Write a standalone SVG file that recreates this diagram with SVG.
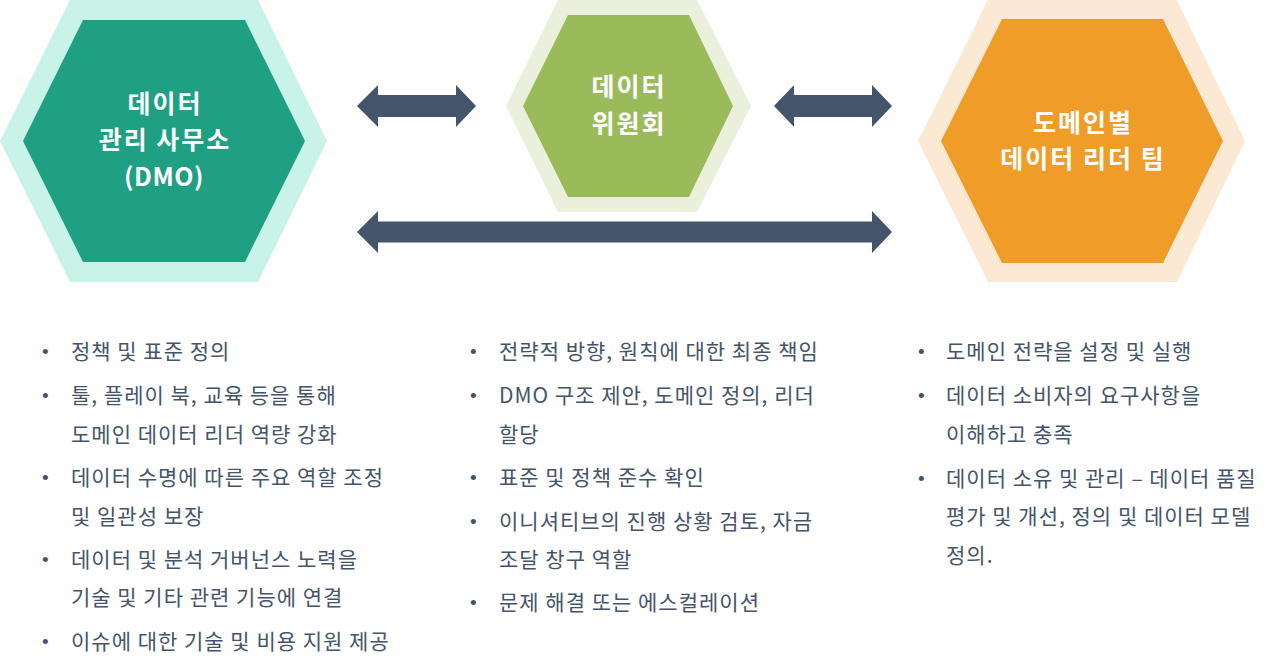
<svg xmlns="http://www.w3.org/2000/svg" width="1280" height="671" viewBox="0 0 1280 671">
<defs>
<style>
.title{font-family:"Noto Sans CJK KR","Noto Sans",sans-serif;font-size:25px;font-weight:700;letter-spacing:2px;fill:#ffffff;text-anchor:middle}
.latin{letter-spacing:0.5px}
.item{font-family:"Noto Sans CJK KR","Noto Sans",sans-serif;font-size:21px;font-weight:400;letter-spacing:1px;fill:#44546a}
.dot{font-family:"Liberation Sans",sans-serif;font-size:19px;fill:#44546a}
.arrow{fill:#44546a}
</style>
</defs>
<rect width="1280" height="671" fill="#ffffff"/>
<g id="connectors">
<polygon class="arrow" points="357,106 378,85 378,95 456,95 456,85 476,106 456,127 456,117 378,117 378,127"/>
<polygon class="arrow" points="774,106 794,85 794,95 872,95 872,85 892,106 872,127 872,117 794,117 794,127"/>
<polygon class="arrow" points="357,232 378,211 378,221.5 872,221.5 872,211 892,232 872,253 872,242.5 378,242.5 378,253"/>
</g>
<g id="node-dmo">
<polygon points="70,0 258,0 327,141 258,282 70,282 0,141" fill="#c9f2e8"/>
<polygon points="83,20 245,20 305,141 245,262 83,262 23,141" fill="#1fa083"/>
<text class="title" x="165" y="112.5">데이터</text>
<text class="title" x="165" y="149">관리 사무소</text>
<text class="title latin" x="164" y="185.5" font-size="26">(DMO)</text>
</g>
<g id="node-committee">
<polygon points="558,0 697,0 751,106 697,212 558,212 506,106" fill="#ebf0dc"/>
<polygon points="568,15 689,15 733,106 689,197 568,197 523,106" fill="#9bbb5a"/>
<text class="title" x="629" y="96">데이터</text>
<text class="title" x="629" y="132.5">위원회</text>
</g>
<g id="node-domain">
<polygon points="988,0 1177,0 1245,141 1177,282 988,282 918,141" fill="#fbe9d3"/>
<polygon points="1002,19 1163,19 1223,141 1163,263 1002,263 941,141" fill="#f09c28"/>
<text class="title" x="1083" y="131.5">도메인별</text>
<text class="title" x="1083" y="168">데이터 리더 팀</text>
</g>
<g id="list-dmo">
<text class="dot" x="42" y="358">•</text>
<text class="item" x="71" y="359">정책 및 표준 정의</text>
<text class="dot" x="42" y="402">•</text>
<text class="item" x="71" y="403">툴, 플레이 북, 교육 등을 통해</text>
<text class="item" x="71" y="442">도메인 데이터 리더 역량 강화</text>
<text class="dot" x="42" y="484">•</text>
<text class="item" x="71" y="485">데이터 수명에 따른 주요 역할 조정</text>
<text class="item" x="71" y="524">및 일관성 보장</text>
<text class="dot" x="42" y="566">•</text>
<text class="item" x="71" y="567">데이터 및 분석 거버넌스 노력을</text>
<text class="item" x="71" y="605">기술 및 기타 관련 기능에 연결</text>
<text class="dot" x="42" y="648">•</text>
<text class="item" x="71" y="649">이슈에 대한 기술 및 비용 지원 제공</text>
</g>
<g id="list-committee">
<text class="dot" x="470" y="358">•</text>
<text class="item" x="499" y="359">전략적 방향, 원칙에 대한 최종 책임</text>
<text class="dot" x="470" y="402">•</text>
<text class="item" x="499" y="403">DMO 구조 제안, 도메인 정의, 리더</text>
<text class="item" x="499" y="442">할당</text>
<text class="dot" x="470" y="484">•</text>
<text class="item" x="499" y="485">표준 및 정책 준수 확인</text>
<text class="dot" x="470" y="528">•</text>
<text class="item" x="499" y="529">이니셔티브의 진행 상황 검토, 자금</text>
<text class="item" x="499" y="567">조달 창구 역할</text>
<text class="dot" x="470" y="609">•</text>
<text class="item" x="499" y="610">문제 해결 또는 에스컬레이션</text>
</g>
<g id="list-domain">
<text class="dot" x="918" y="358">•</text>
<text class="item" x="946" y="359">도메인 전략을 설정 및 실행</text>
<text class="dot" x="918" y="402">•</text>
<text class="item" x="946" y="403">데이터 소비자의 요구사항을</text>
<text class="item" x="946" y="442">이해하고 충족</text>
<text class="dot" x="918" y="485">•</text>
<text class="item" x="946" y="486">데이터 소유 및 관리 – 데이터 품질</text>
<text class="item" x="946" y="524">평가 및 개선, 정의 및 데이터 모델</text>
<text class="item" x="946" y="563">정의.</text>
</g>
</svg>
